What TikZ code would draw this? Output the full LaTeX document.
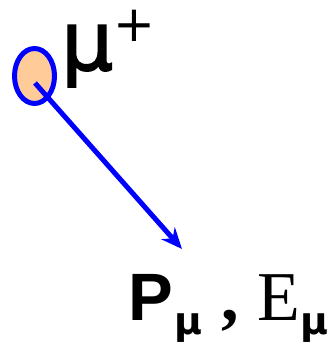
\documentclass[tikz,border=0pt]{standalone}
\usepackage{fontspec}
\setmainfont{Liberation Serif}
\setsansfont{Liberation Sans}
\newfontfamily\mufont{DejaVu Sans}
\newfontfamily\muheavy[FakeBold=2]{DejaVu Sans}
\usetikzlibrary{arrows.meta,shapes.geometric}
\definecolor{muonBlue}{HTML}{0000FF}
\definecolor{muonPeach}{HTML}{FFCC99}
\newcommand{\subMu}{{\mufont\bfseries\fontsize{38}{38}\selectfont\raisebox{-14pt}{μ}}}

\begin{document}
\begin{tikzpicture}[x=1pt,y=-1pt,>={Stealth[length=21pt,width=18pt]}]
  \useasboundingbox (0,0) rectangle (331,347);
  \node[ellipse,draw=muonBlue,fill=muonPeach,line width=5pt,
    minimum width=40pt,minimum height=55pt,inner sep=0] (muon) at (34.5,76) {};
  \node[anchor=base west,inner sep=0,font=\mufont\fontsize{82}{82}\selectfont]
    (charge) at (61,70) {{\muheavy μ}\raisebox{28pt}{\fontsize{50}{50}\selectfont+}};
  \coordinate (start) at (35,83);
  \coordinate (tip) at (182,249);
  \draw[->,muonBlue,line width=5pt] (start) -- (tip);
  \node[anchor=base west,inner sep=0] (kin) at (128,320)
    {{\sffamily\bfseries\fontsize{67}{67}\selectfont P}\hspace{2pt}\subMu\hspace{18.4pt}%
     {\bfseries\fontsize{70}{70}\selectfont ,}\hspace{18.5pt}%
     {\fontsize{70}{70}\selectfont E}\subMu};
\end{tikzpicture}
\end{document}
